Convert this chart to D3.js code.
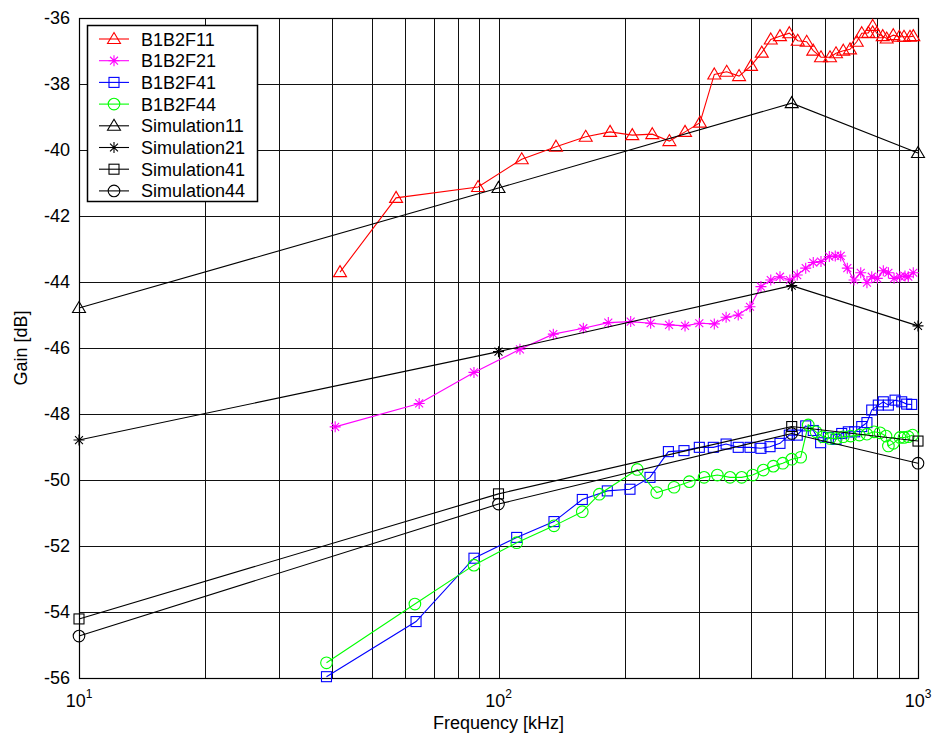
<!DOCTYPE html>
<html><head><meta charset="utf-8">
<script src="https://cdn.jsdelivr.net/npm/d3@7"></script>
<style>body{margin:0;background:#fff}svg{display:block}text{font-family:"Liberation Sans",Arial,sans-serif;fill:#000}</style>
</head><body><svg id="c" width="932" height="735"></svg>
<script>
// ---- data ----
const f11 = [41.9, 57, 89.4, 113.6, 137.1, 161.4, 184.5, 208.4, 232.6, 255.5, 278.4, 302.2, 326.9, 349.9, 374.5, 399.9, 424.2, 445.7, 468.8, 493.4, 516.7, 542.8, 562.8, 587.2, 616.9, 637.6, 663.6, 688.5, 714.4, 734.3, 761.3, 779.9, 797.2, 823.9, 842.1, 873.2, 902.5, 926, 957, 974.5];
const g11 = [-43.70, -41.45, -41.12, -40.28, -39.90, -39.60, -39.45, -39.55, -39.52, -39.73, -39.45, -39.17, -37.71, -37.63, -37.76, -37.45, -37.05, -36.65, -36.55, -36.46, -36.69, -36.72, -36.99, -37.19, -37.19, -37.07, -36.99, -36.95, -36.72, -36.46, -36.45, -36.24, -36.46, -36.55, -36.62, -36.52, -36.57, -36.57, -36.57, -36.55];
const f21 = [40.8, 64.7, 87.4, 112.5, 135.1, 159.3, 182.7, 206.6, 230.5, 255, 278.4, 301.1, 326.9, 348.8, 372.8, 397.7, 422.3, 445.7, 468.8, 495, 515.4, 539.9, 562.8, 587.2, 614.6, 635, 654.3, 678.4, 703.9, 730.3, 755.6, 775.7, 799.8, 826.6, 850, 876.8, 906, 931, 948, 974.5];
const g21 = [-48.39, -47.68, -46.74, -46.04, -45.58, -45.40, -45.23, -45.20, -45.25, -45.30, -45.33, -45.25, -45.27, -45.07, -45.0, -44.75, -44.14, -43.94, -43.84, -43.94, -43.79, -43.58, -43.41, -43.38, -43.23, -43.21, -43.21, -43.58, -43.94, -43.72, -44.02, -43.84, -43.89, -43.66, -43.72, -43.89, -43.84, -43.82, -43.84, -43.72];
const f41 = [38.9, 63.6, 87.4, 110.5, 135.6, 158.4, 181.7, 205.8, 229.7, 254.1, 276.8, 301.1, 325.1, 348.8, 372.8, 397.7, 422.3, 443.9, 468.8, 493.4, 515.4, 539.9, 562.8, 586, 611.3, 637.6, 657.9, 682.2, 706.5, 734.3, 755.6, 775.7, 804.3, 826.6, 850, 881.6, 914.4, 939.8, 966];
const g41 = [-55.96, -54.29, -52.37, -51.74, -51.26, -50.59, -50.33, -50.28, -49.92, -49.14, -49.11, -49.01, -49.01, -48.91, -49.01, -49.01, -49.04, -48.99, -48.89, -48.64, -48.64, -48.36, -48.50, -48.87, -48.71, -48.77, -48.59, -48.54, -48.54, -48.38, -48.26, -47.88, -47.73, -47.63, -47.73, -47.58, -47.63, -47.70, -47.71];
const f44 = [38.9, 63.2, 87.4, 110.5, 135.6, 158.4, 173.9, 214.2, 238.3, 262.1, 285, 309, 332.4, 356.4, 379.9, 403.6, 428, 452, 476, 500, 525.3, 547.5, 571.3, 592.7, 616.9, 638.8, 663.6, 691.2, 724.7, 755.6, 785.5, 811.9, 839, 850, 873.2, 906, 926, 948, 971];
const g44 = [-55.54, -53.76, -52.58, -51.90, -51.39, -50.96, -50.43, -49.68, -50.38, -50.22, -50.05, -49.92, -49.85, -49.92, -49.92, -49.85, -49.70, -49.58, -49.49, -49.37, -49.31, -48.33, -48.54, -48.69, -48.74, -48.74, -48.69, -48.67, -48.64, -48.61, -48.54, -48.57, -48.67, -48.97, -48.89, -48.71, -48.71, -48.69, -48.64];
const fSim = [10, 100, 500, 1000];
const s11 = [-44.79, -41.15, -38.58, -40.09];
const s21 = [-48.79, -46.11, -44.11, -45.33];
const s41 = [-54.21, -50.42, -48.38, -48.82];
const s44 = [-54.73, -50.73, -48.59, -49.49];
const seriesNames = ["B1B2F11","B1B2F21","B1B2F41","B1B2F44","Simulation11","Simulation21","Simulation41","Simulation44"];
const seriesColors = ["#ff0000","#ff00ff","#0000ff","#00ff00","#000000","#000000","#000000","#000000"];
const seriesMarkers = ["tri","star","sq","circ","tri","star","sq","circ"];
const yTicks = [-56,-54,-52,-50,-48,-46,-44,-42,-40,-38,-36];
const xDecades = [10,100,1000];
const xLabel = "Frequency [kHz]";
const yLabel = "Gain [dB]";

const seriesX = [f11,f21,f41,f44,fSim,fSim,fSim,fSim];
const seriesY = [g11,g21,g41,g44,s11,s21,s41,s44];

// ---- layout ----
const W=932,H=735, L=79, R=918, T=18, B=678;
const svg=d3.select("#c");
const x=d3.scaleLog().domain([10,1000]).range([L,R]);
const y=d3.scaleLinear().domain([-56,-36]).range([B,T]);

// grid
const minor=[];
for(const d of [10,100]) for(let k=2;k<=9;k++) minor.push(d*k);
const grid=svg.append("g").attr("stroke","#111").attr("stroke-width",1).attr("shape-rendering","crispEdges");
minor.concat([100]).forEach(v=>grid.append("line").attr("x1",Math.round(x(v))+0.5).attr("x2",Math.round(x(v))+0.5).attr("y1",T).attr("y2",B));
yTicks.slice(1,-1).forEach(v=>grid.append("line").attr("x1",L).attr("x2",R).attr("y1",Math.round(y(v))+0.5).attr("y2",Math.round(y(v))+0.5));

// axes via d3
const yAxis=d3.axisLeft(y).tickValues(yTicks).tickSize(0).tickPadding(9).tickFormat(d=>d);
const ga=svg.append("g").attr("transform",`translate(${L},0)`).call(yAxis);
ga.select(".domain").remove();
ga.selectAll("text").attr("font-size",18).attr("font-family","Liberation Sans, Arial, sans-serif");
const xAxis=d3.axisBottom(x).tickValues(xDecades).tickSize(0).tickFormat("");
const gx=svg.append("g").attr("transform",`translate(0,${B})`).call(xAxis);
gx.select(".domain").remove();
xDecades.forEach(v=>{
  const t=svg.append("text").attr("x",x(v)).attr("y",B+29).attr("font-size",18).attr("text-anchor","middle");
  t.append("tspan").text("10");
  t.append("tspan").attr("font-size",12).attr("dy",-9).text(String(Math.round(Math.log10(v))));
});

// frame
svg.append("rect").attr("x",L+0.5).attr("y",T+0.5).attr("width",R-L).attr("height",B-T).attr("fill","none").attr("stroke","#000").attr("stroke-width",1.2);

// markers
function drawMarker(g,type,cx,cy,color){
  if(type==="tri"){
    g.append("path").attr("d",`M${cx},${cy-6.5}L${cx+6.5},${cy+4.5}L${cx-6.5},${cy+4.5}Z`).attr("fill","none").attr("stroke",color).attr("stroke-width",1.1);
  } else if(type==="sq"){
    g.append("rect").attr("x",cx-5).attr("y",cy-5).attr("width",10).attr("height",10).attr("fill","none").attr("stroke",color).attr("stroke-width",1.1);
  } else if(type==="circ"){
    g.append("circle").attr("cx",cx).attr("cy",cy).attr("r",5.8).attr("fill","none").attr("stroke",color).attr("stroke-width",1.1);
  } else {
    const r=5.5,d=r*0.72;
    g.append("path").attr("d",`M${cx},${cy-r}V${cy+r}M${cx-r},${cy}H${cx+r}M${cx-d},${cy-d}L${cx+d},${cy+d}M${cx-d},${cy+d}L${cx+d},${cy-d}`).attr("stroke",color).attr("stroke-width",1.1).attr("fill","none");
  }
}

const line=d3.line().x(d=>x(d[0])).y(d=>y(d[1]));
const plot=svg.append("g");
seriesNames.forEach((n,i)=>{
  const pts=seriesX[i].map((f,j)=>[f,seriesY[i][j]]);
  const g=plot.append("g");
  g.append("path").datum(pts).attr("d",line).attr("fill","none").attr("stroke",seriesColors[i]).attr("stroke-width",1.1);
  pts.forEach(p=>drawMarker(g,seriesMarkers[i],x(p[0]),y(p[1]),seriesColors[i]));
});

// legend
const lg=svg.append("g");
lg.append("rect").attr("x",87.5).attr("y",25.5).attr("width",170).attr("height",176).attr("fill","#fff").attr("stroke","#000").attr("stroke-width",1.5);
seriesNames.forEach((n,i)=>{
  const cy=39+i*21.7;
  lg.append("line").attr("x1",99).attr("x2",129).attr("y1",cy).attr("y2",cy).attr("stroke",seriesColors[i]).attr("stroke-width",1.1);
  drawMarker(lg,seriesMarkers[i],114,cy,seriesColors[i]);
  lg.append("text").attr("x",141).attr("y",cy+6.5).attr("font-size",18).text(n);
});

// labels
svg.append("text").attr("x",(L+R)/2).attr("y",729).attr("text-anchor","middle").attr("font-size",18).text(xLabel);
svg.append("text").attr("transform",`translate(27,${(T+B)/2}) rotate(-90)`).attr("text-anchor","middle").attr("font-size",18).text(yLabel);
</script></body></html>
